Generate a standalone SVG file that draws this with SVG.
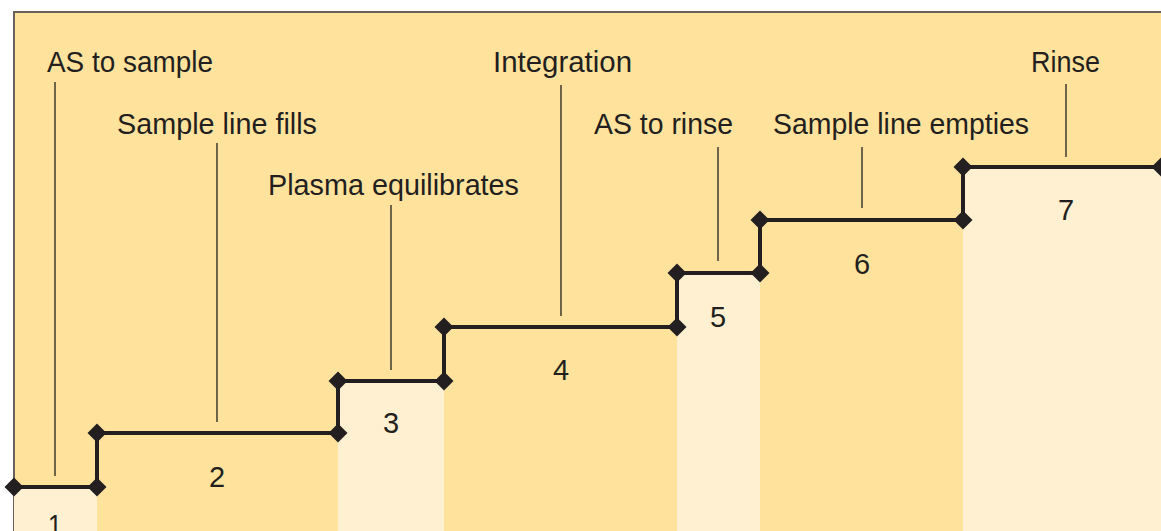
<svg xmlns="http://www.w3.org/2000/svg" width="1161" height="531" viewBox="0 0 1161 531">
<defs>
<style>
.bg{fill:#FFE39D}
.lt{fill:#FEF0D0}
.lbl{font-family:"Liberation Sans",Arial,sans-serif;font-size:29px;fill:#231F20}
.num{font-family:"Liberation Sans",Arial,sans-serif;font-size:29px;fill:#231F20;text-anchor:middle}
.lead{stroke:#231F20;stroke-width:1.3;fill:none}
.stair{stroke:#231F20;stroke-width:4;fill:none;stroke-linejoin:miter}
</style>
<marker id="dia" markerUnits="userSpaceOnUse" markerWidth="22" markerHeight="22" refX="11" refY="11" orient="0" overflow="visible">
<polygon points="11,1.5 20.5,11 11,20.5 1.5,11" fill="#231F20"/>
</marker>
</defs>
<rect x="0" y="0" width="1161" height="531" fill="#FFFFFF"/>
<rect class="bg" x="14" y="12" width="1147" height="519"/>
<path d="M14,531 V12 H1161" stroke="#6A625A" stroke-width="2" fill="none"/>
<g id="step1"><rect class="lt" x="14" y="487" width="83" height="44"/><text class="num" x="55" y="535" textLength="14" lengthAdjust="spacingAndGlyphs">1</text></g>
<g id="step2"><text class="num" x="217" y="487">2</text></g>
<g id="step3"><rect class="lt" x="338" y="381" width="106" height="150"/><text class="num" x="391" y="433">3</text></g>
<g id="step4"><text class="num" x="561" y="380">4</text></g>
<g id="step5"><rect class="lt" x="677" y="273" width="83" height="258"/><text class="num" x="718" y="327">5</text></g>
<g id="step6"><text class="num" x="862" y="274">6</text></g>
<g id="step7"><rect class="lt" x="963" y="167" width="198" height="364"/><text class="num" x="1066" y="220">7</text></g>
<g id="labels">
<text class="lbl" x="47" y="72" textLength="166" lengthAdjust="spacingAndGlyphs">AS to sample</text>
<text class="lbl" x="117" y="134" textLength="200" lengthAdjust="spacingAndGlyphs">Sample line fills</text>
<text class="lbl" x="268" y="195" textLength="251" lengthAdjust="spacingAndGlyphs">Plasma equilibrates</text>
<text class="lbl" x="493" y="72" textLength="139" lengthAdjust="spacingAndGlyphs">Integration</text>
<text class="lbl" x="594" y="134" textLength="139" lengthAdjust="spacingAndGlyphs">AS to rinse</text>
<text class="lbl" x="773" y="134" textLength="256" lengthAdjust="spacingAndGlyphs">Sample line empties</text>
<text class="lbl" x="1031" y="72" textLength="69" lengthAdjust="spacingAndGlyphs">Rinse</text>
</g>
<g id="connectors">
<path class="lead" d="M55,82 V476 M217,143 V422 M391,205 V370 M561,85 V316 M718,147 V261 M862,147 V208 M1066,84 V157"/>
<path class="stair" marker-start="url(#dia)" marker-mid="url(#dia)" marker-end="url(#dia)" d="M14,487 L97,487 L97,433 L338,433 L338,381 L444,381 L444,327 L677,327 L677,273 L760,273 L760,220 L963,220 L963,167 L1161,167"/>
</g>
</svg>
